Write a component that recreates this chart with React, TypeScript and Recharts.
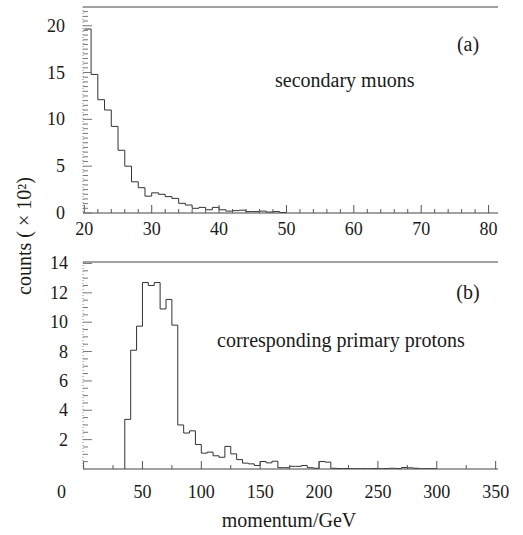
import React from 'react';
import { LineChart, Line, XAxis, YAxis, ReferenceLine } from 'recharts';

// ---- data: secondary muons (bins of 1 GeV from 20 GeV), counts ×10^2
const muonStart = 20;
const muonBinWidth = 1;
const muonCounts = [
  19.65, 14.8, 12.1, 11.0, 9.25, 6.7, 5.0, 3.33, 2.7, 1.8,
  2.15, 2.0, 1.75, 1.56, 1.03, 0.85, 0.5, 0.6, 0.35, 0.6,
  0.35, 0.2, 0.25, 0.3, 0.15, 0.15, 0.2, 0.1, 0.15, 0.05,
];

// ---- data: corresponding primary protons (bins of 5 GeV from 35 GeV)
const protonStart = 35;
const protonBinWidth = 5;
const protonCounts = [
  3.38, 8.09, 9.73, 12.7, 12.5, 12.7, 10.9, 11.55, 9.8, 3.0,
  2.45, 2.6, 1.67, 1.08, 1.15, 0.9, 0.8, 1.54, 1.03, 0.64,
  0.4, 0.35, 0.24, 0.51, 0.42, 0.53, 0.09, 0.09, 0.18, 0.18,
  0.24, 0.09, 0.05, 0.51, 0.47, 0.05, 0.03, 0.03, 0.02, 0.02,
  0.02, 0.02, 0.03, 0.02, 0.03, 0.05, 0.03, 0.1, 0.08, 0.05,
  0.02, 0.02, 0.02,
];

// ---- tick labels
const muonXMajor = [20, 30, 40, 50, 60, 70, 80];
const muonYMajor = [0, 5, 10, 15, 20];
const protonXMajor = [0, 50, 100, 150, 200, 250, 300, 350];
const protonYMajor = [2, 4, 6, 8, 10, 12, 14];

const muonXTicks = Array.from({ length: 31 }, (_, i) => 20 + i * 2);
const muonYTicks = Array.from({ length: 44 }, (_, i) => i * 0.5);
const protonXTicks = Array.from({ length: 15 }, (_, i) => i * 25);
const protonYTicks = Array.from({ length: 28 }, (_, i) => 0.5 + i * 0.5);

const FONT = '"Liberation Serif", "Times New Roman", serif';
const TEXT = '#1a1a1a';

function histPoints(start: number, width: number, counts: number[], leadingZero: boolean) {
  const pts: { x: number; y: number }[] = [];
  if (leadingZero) pts.push({ x: start, y: 0 });
  counts.forEach((c, i) => pts.push({ x: start + i * width, y: c }));
  pts.push({ x: start + counts.length * width, y: 0 });
  return pts;
}

const muonData = histPoints(muonStart, muonBinWidth, muonCounts, false);
const protonData = histPoints(protonStart, protonBinWidth, protonCounts, true);

const makeXTick = (majors: number[], labelDy: number, zeroDx = 0) => (props: any) => {
  const { x, y, payload } = props;
  const v = payload.value;
  const isMajor = majors.includes(v);
  return (
    <g>
      <line x1={x} x2={x} y1={y} y2={y - (isMajor ? 8 : 4)} stroke="#555" strokeWidth={1} />
      {isMajor && (
        <text
          x={x + (v === 0 ? zeroDx : 0)}
          y={y + labelDy}
          textAnchor="middle"
          dominantBaseline="central"
          fontFamily={FONT}
          fontSize={18}
          fill={TEXT}
        >
          {v}
        </text>
      )}
    </g>
  );
};

const makeYTick = (majors: number[], labelDx: number, majorStep: number) => (props: any) => {
  const { x, y, payload } = props;
  const v = payload.value;
  const isLong = Math.abs(v / majorStep - Math.round(v / majorStep)) < 1e-6;
  const hasLabel = majors.includes(v);
  return (
    <g>
      <line x1={x} x2={x + (isLong ? 9 : 5)} y1={y} y2={y} stroke="#777" strokeWidth={1} />
      {hasLabel && (
        <text
          x={x - labelDx}
          y={y}
          textAnchor="end"
          dominantBaseline="central"
          fontFamily={FONT}
          fontSize={18}
          fill={TEXT}
        >
          {v}
        </text>
      )}
    </g>
  );
};

export default function App() {
  return (
    <div style={{ position: 'absolute', left: 0, top: 0, width: 523, height: 535, background: '#fff' }}>
      <div style={{ position: 'absolute', left: 0, top: 0 }}>
        <LineChart width={523} height={250} data={muonData} margin={{ top: 7, right: 25, bottom: 0, left: 0 }}>
          <XAxis
            type="number"
            dataKey="x"
            domain={[19.8, 81.4]}
            ticks={muonXTicks}
            interval={0}
            height={37}
            tickSize={0}
            tickMargin={0}
            tickLine={false}
            axisLine={{ stroke: '#444', strokeWidth: 1 }}
            tick={makeXTick(muonXMajor, 16)}
            allowDataOverflow
          />
          <YAxis
            type="number"
            domain={[0, 22]}
            ticks={muonYTicks}
            interval={0}
            width={83}
            tickSize={0}
            tickMargin={0}
            tickLine={false}
            axisLine={{ stroke: '#888', strokeWidth: 1, strokeDasharray: '1 2' }}
            tick={makeYTick(muonYMajor, 18, 5)}
            allowDataOverflow
          />
          <ReferenceLine y={22} stroke="#444" strokeWidth={1} />
          <Line
            type="stepAfter"
            dataKey="y"
            stroke="#333"
            strokeWidth={1}
            dot={false}
            activeDot={false}
            isAnimationActive={false}
          />
        </LineChart>
      </div>
      <div style={{ position: 'absolute', left: 0, top: 250 }}>
        <LineChart width={523} height={285} data={protonData} margin={{ top: 12, right: 25, bottom: 0, left: 0 }}>
          <XAxis
            type="number"
            dataKey="x"
            domain={[-0.5, 352]}
            ticks={protonXTicks}
            interval={0}
            height={66}
            tickSize={0}
            tickMargin={0}
            tickLine={false}
            axisLine={{ stroke: '#444', strokeWidth: 1 }}
            tick={makeXTick(protonXMajor, 23, -22)}
            allowDataOverflow
          />
          <YAxis
            type="number"
            domain={[0, 14.1]}
            ticks={protonYTicks}
            interval={0}
            width={83}
            tickSize={0}
            tickMargin={0}
            tickLine={false}
            axisLine={{ stroke: '#888', strokeWidth: 1, strokeDasharray: '1 2' }}
            tick={makeYTick(protonYMajor, 15, 2)}
            allowDataOverflow
          />
          <ReferenceLine y={14.1} stroke="#444" strokeWidth={1} />
          <Line
            type="stepAfter"
            dataKey="y"
            stroke="#333"
            strokeWidth={1}
            dot={false}
            activeDot={false}
            isAnimationActive={false}
          />
        </LineChart>
      </div>
      <svg
        width={523}
        height={535}
        style={{ position: 'absolute', left: 0, top: 0, pointerEvents: 'none' }}
      >
        <g fontFamily={FONT} fill={TEXT} fontSize={20}>
          <text x={468} y={44} textAnchor="middle" dominantBaseline="central">(a)</text>
          <text x={275} y={80} dominantBaseline="central">secondary muons</text>
          <text x={468} y={292} textAnchor="middle" dominantBaseline="central">(b)</text>
          <text x={217} y={340} dominantBaseline="central">corresponding primary protons</text>
          <text x={289} y={520} textAnchor="middle" dominantBaseline="central">momentum/GeV</text>
          <text
            x={24}
            y={236}
            textAnchor="middle"
            dominantBaseline="central"
            transform="rotate(-90 24 236)"
          >
            counts ( × 10²)
          </text>
        </g>
      </svg>
    </div>
  );
}
